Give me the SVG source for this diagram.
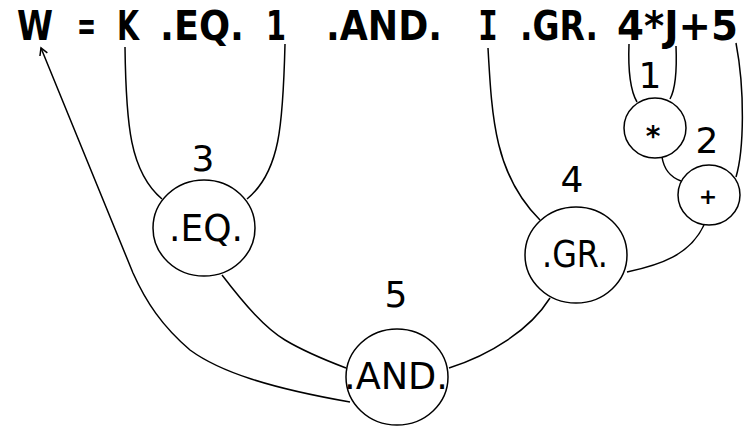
<svg xmlns="http://www.w3.org/2000/svg" width="744" height="428" viewBox="0 0 744 428">
  <style>
    .expr { font-family: "DejaVu Sans", "Liberation Sans", sans-serif; font-weight: bold; font-size: 40px; fill: #000; }
    .expr-bar { font-family: "DejaVu Sans Mono", "Liberation Mono", monospace; }
    .op { font-family: "DejaVu Sans", "Liberation Sans", sans-serif; font-size: 37px; fill: #000; text-anchor: middle; }
    .num { font-family: "DejaVu Sans", "Liberation Sans", sans-serif; font-size: 36px; fill: #000; text-anchor: middle; }
    .sym { font-family: "DejaVu Sans", "Liberation Sans", sans-serif; font-weight: bold; fill: #000; text-anchor: middle; }
    .node { fill: #fff; stroke: #000; stroke-width: 1.5; }
    .edge { fill: none; stroke: #000; stroke-width: 1.5; }
  </style>
  <defs>
    <marker id="arrow" markerWidth="12" markerHeight="12" refX="10" refY="6" orient="auto" markerUnits="userSpaceOnUse">
      <path d="M3,2 L10,6 L3,10" fill="none" stroke="#000" stroke-width="1.5"/>
    </marker>
  </defs>
  <rect width="744" height="428" fill="#fff"/>

  <!-- source statement -->
  <g id="expression">
    <text class="expr" x="17" y="40" textLength="36" lengthAdjust="spacingAndGlyphs">W</text>
    <text class="expr" x="77" y="40" textLength="19" lengthAdjust="spacingAndGlyphs">=</text>
    <text class="expr" x="117" y="40" textLength="22" lengthAdjust="spacingAndGlyphs">K</text>
    <text class="expr" x="160" y="40" textLength="84" lengthAdjust="spacingAndGlyphs">.EQ.</text>
    <text class="expr" x="266" y="40" textLength="20" lengthAdjust="spacingAndGlyphs">1</text>
    <text class="expr" x="326" y="40" textLength="116" lengthAdjust="spacingAndGlyphs">.AND.</text>
    <text class="expr expr-bar" x="478" y="40" textLength="20" lengthAdjust="spacingAndGlyphs">I</text>
    <text class="expr" x="520" y="40" textLength="78" lengthAdjust="spacingAndGlyphs">.GR.</text>
    <text class="expr" x="617" y="40" textLength="121" lengthAdjust="spacingAndGlyphs">4*J+5</text>
  </g>

  <!-- connectors -->
  <g id="connectors">
    <path class="edge" d="M125,47 C126,125 130,172 162,199"/>
    <path class="edge" d="M285,44 C283,125 280,172 247,199"/>
    <path class="edge" d="M629,44 C628,70 630,90 637,102"/>
    <path class="edge" d="M676,46 C677,70 676,88 670,99"/>
    <path class="edge" d="M736,43 C745,90 744,150 736,177"/>
    <path class="edge" d="M662,157 C664,170 670,177 681,181"/>
    <path class="edge" d="M488,48 C492,120 495,175 540,220"/>
    <path class="edge" d="M704,225 C690,255 660,265 627,272"/>
    <path class="edge" d="M550,298 C530,330 490,355 449,368"/>
    <path class="edge" d="M222,275 C245,305 265,328 285,340 C305,352 325,360 346,368"/>
    <path class="edge" d="M350,402 C270,388 220,372 190,350 C162,326 146,302 133,273 L41,48" marker-end="url(#arrow)"/>
  </g>

  <!-- operator nodes -->
  <g id="node-mul">
    <ellipse class="node" cx="655" cy="128" rx="31" ry="30"/>
    <text class="sym" x="653" y="146" font-size="28">*</text>
    <text class="num" x="650" y="88">1</text>
  </g>
  <g id="node-add">
    <ellipse class="node" cx="709" cy="195" rx="31" ry="30"/>
    <text class="sym" x="708" y="204" font-size="22">+</text>
    <text class="num" x="707" y="153">2</text>
  </g>
  <g id="node-eq">
    <ellipse class="node" cx="204" cy="228" rx="51" ry="48"/>
    <text class="op" x="206" y="241" textLength="74" lengthAdjust="spacingAndGlyphs">.EQ.</text>
    <text class="num" x="203" y="171">3</text>
  </g>
  <g id="node-gr">
    <ellipse class="node" cx="576" cy="255" rx="51" ry="48"/>
    <text class="op" x="575" y="267" textLength="66" lengthAdjust="spacingAndGlyphs">.GR.</text>
    <text class="num" x="572" y="192">4</text>
  </g>
  <g id="node-and">
    <ellipse class="node" cx="397" cy="377" rx="51" ry="48"/>
    <text class="op" x="396" y="389" textLength="104" lengthAdjust="spacingAndGlyphs">.AND.</text>
    <text class="num" x="396" y="307">5</text>
  </g>
</svg>
